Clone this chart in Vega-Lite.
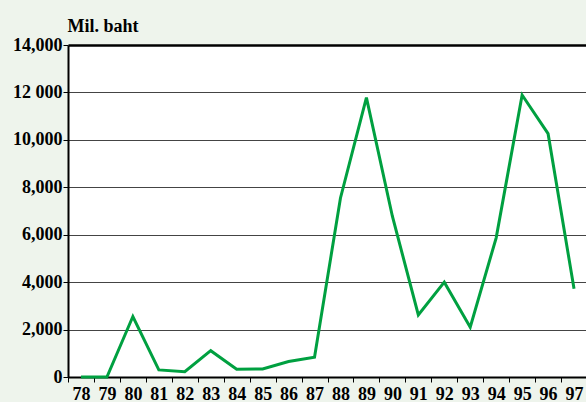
{
  "$schema": "https://vega.github.io/schema/vega-lite/v6.json",
  "width": 519,
  "height": 332,
  "autosize": "none",
  "padding": {"left": 68, "top": 45, "right": 0, "bottom": 25},
  "background": "#eef4ec",
  "config": {"view": {"fill": "white", "stroke": null}},
  "data": {
    "values": [
      {"year": "78", "value": 0},
      {"year": "79", "value": 0},
      {"year": "80", "value": 2550},
      {"year": "81", "value": 300},
      {"year": "82", "value": 225},
      {"year": "83", "value": 1110},
      {"year": "84", "value": 325},
      {"year": "85", "value": 340},
      {"year": "86", "value": 650},
      {"year": "87", "value": 830},
      {"year": "88", "value": 7550},
      {"year": "89", "value": 11780},
      {"year": "90", "value": 6780},
      {"year": "91", "value": 2620},
      {"year": "92", "value": 4000},
      {"year": "93", "value": 2100},
      {"year": "94", "value": 5870},
      {"year": "95", "value": 11890},
      {"year": "96", "value": 10260},
      {"year": "97", "value": 3720}
    ]
  },
  "mark": {"type": "line", "color": "#00a040", "strokeWidth": 3},
  "encoding": {
    "x": {
      "field": "year",
      "type": "ordinal",
      "sort": null,
      "scale": {"type": "band", "paddingInner": 0, "paddingOuter": 0},
      "axis": {
        "title": null,
        "labelAngle": 0,
        "tickBand": "extent",
        "domainColor": "black",
        "domainWidth": 2,
        "tickColor": "black",
        "tickSize": 5,
        "tickWidth": 1,
        "labelFont": "Liberation Serif",
        "labelFontWeight": "bold",
        "labelFontSize": 18,
        "labelColor": "black",
        "labelPadding": 3,
        "grid": false
      }
    },
    "y": {
      "field": "value",
      "type": "quantitative",
      "scale": {"domain": [0, 14000], "nice": false},
      "axis": {
        "values": [0, 2000, 4000, 6000, 8000, 10000, 12000, 14000],
        "labelExpr": "datum.value == 12000 ? '12 000' : format(datum.value, ',')",
        "title": "Mil. baht",
        "titleAngle": 0,
        "titleAlign": "left",
        "titleBaseline": "alphabetic",
        "titleX": -1,
        "titleY": -14,
        "titleFont": "Liberation Serif",
        "titleFontSize": 18,
        "titleFontWeight": "bold",
        "titleColor": "black",
        "labelFont": "Liberation Serif",
        "labelFontWeight": "bold",
        "labelFontSize": 18,
        "labelColor": "black",
        "labelPadding": 1,
        "tickSize": 5,
        "tickColor": "black",
        "domainColor": "black",
        "domainWidth": 2,
        "grid": true,
        "gridColor": {"condition": {"test": "datum.value == 14000", "value": "black"}, "value": "#444"},
        "gridWidth": {"condition": {"test": "datum.value == 14000", "value": 2.5}, "value": 1}
      }
    }
  }
}
